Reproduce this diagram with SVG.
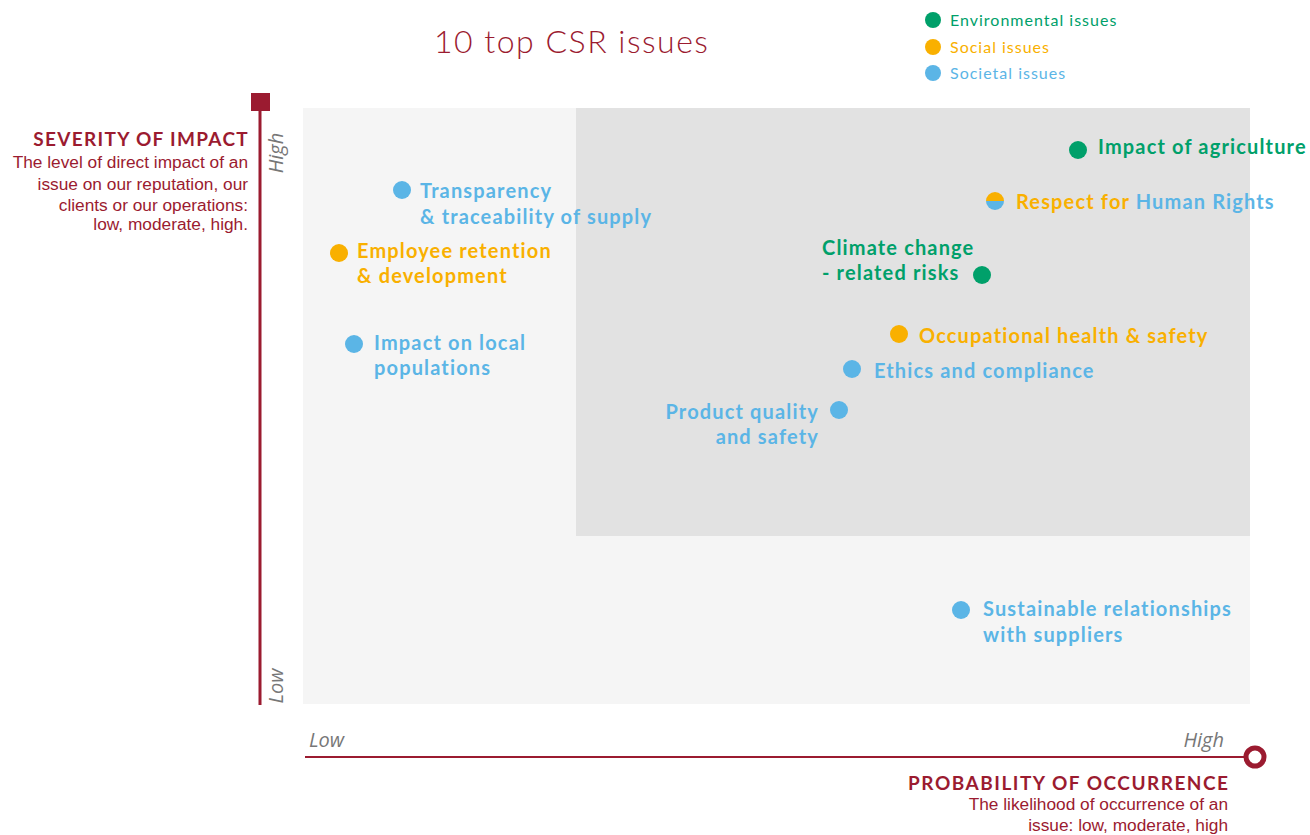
<svg xmlns="http://www.w3.org/2000/svg" width="1310" height="835" viewBox="0 0 1310 835">
<style>
.lbl{font-family:Lato,"Open Sans",sans-serif;font-weight:bold;font-size:20px;letter-spacing:1.15px}
.g{fill:#00A06A}.o{fill:#F9B000}.b{fill:#5BB5E6}
.leg{font-family:Lato,"Open Sans",sans-serif;font-size:16px;letter-spacing:1px}
.ax{font-family:"Open Sans",sans-serif;font-style:italic;font-size:20px;fill:#777}
.hd{font-family:Lato,"Liberation Sans",sans-serif;font-weight:bold;font-size:19px;fill:#9B1B30}
.bd{font-family:"Liberation Sans",Arial,sans-serif;font-size:17.3px;fill:#9B1B30}
</style>
<rect width="1310" height="835" fill="#fff"/>
<g id="background">
<rect x="303" y="108" width="947" height="596" fill="#F5F5F5"/>
<rect x="576" y="108" width="674" height="428" fill="#E2E2E2"/>
</g>
<g id="title"><text x="434" y="53" font-family="Lato,'Open Sans',sans-serif" font-weight="300" font-size="32" letter-spacing="1.5" fill="#9B1B30">10 top CSR issues</text></g>
<g id="legend">
<circle cx="933" cy="20" r="8" class="g"/><text x="950" y="26" class="leg g">Environmental issues</text>
<circle cx="933" cy="47" r="8" class="o"/><text x="950" y="53" class="leg o">Social issues</text>
<circle cx="933" cy="73" r="8" class="b"/><text x="950" y="79" class="leg b">Societal issues</text>
</g>
<g id="axes">
<line x1="260" y1="100" x2="260" y2="705" stroke="#9B1B30" stroke-width="3"/>
<rect x="251" y="93" width="19" height="18" fill="#9B1B30"/>
<line x1="305" y1="757" x2="1246" y2="757" stroke="#9B1B30" stroke-width="2"/>
<circle cx="1255" cy="757" r="9" fill="#fff" stroke="#9B1B30" stroke-width="5"/>
<text class="ax" transform="translate(283,153) rotate(-90)" text-anchor="middle">High</text>
<text class="ax" transform="translate(283,686) rotate(-90)" text-anchor="middle">Low</text>
<text class="ax" x="309" y="747">Low</text>
<text class="ax" x="1224" y="747" text-anchor="end">High</text>
<text class="hd" x="249" y="146" text-anchor="end" letter-spacing="1.3">SEVERITY OF IMPACT</text>
<text class="bd" text-anchor="end"><tspan x="248" y="168">The level of direct impact of an</tspan><tspan x="248" y="190">issue on our reputation, our</tspan><tspan x="248" y="211">clients or our operations:</tspan><tspan x="248" y="230">low, moderate, high.</tspan></text>
<text class="hd" x="1229.5" y="790" text-anchor="end" letter-spacing="1.5">PROBABILITY OF OCCURRENCE</text>
<text class="bd" text-anchor="end"><tspan x="1228" y="810">The likelihood of occurrence of an</tspan><tspan x="1228" y="831">issue: low, moderate, high</tspan></text>
</g>
<g id="transparency"><circle cx="402" cy="190" r="9" class="b"/><text class="lbl b"><tspan x="420" y="198">Transparency</tspan><tspan x="420" y="224">&amp; traceability of supply</tspan></text></g>
<g id="employee"><circle cx="339" cy="253" r="9" class="o"/><text class="lbl o"><tspan x="357" y="258">Employee retention</tspan><tspan x="357" y="283">&amp; development</tspan></text></g>
<g id="local"><circle cx="354" cy="344" r="9" class="b"/><text class="lbl b"><tspan x="374" y="350">Impact on local</tspan><tspan x="374" y="375">populations</tspan></text></g>
<g id="agriculture"><circle cx="1078" cy="150" r="9" class="g"/><text class="lbl g" x="1098" y="154">Impact of agriculture</text></g>
<g id="humanrights"><path d="M986,201 A9,9 0 0 1 1004,201 Z" class="o"/><path d="M986,201 A9,9 0 0 0 1004,201 Z" class="b"/><text class="lbl" x="1016" y="209"><tspan class="o">Respect for </tspan><tspan class="b">Human Rights</tspan></text></g>
<g id="climate"><circle cx="982" cy="275" r="9" class="g"/><text class="lbl g"><tspan x="822" y="255">Climate change</tspan><tspan x="822" y="280">- related risks</tspan></text></g>
<g id="occupational"><circle cx="899" cy="334" r="9" class="o"/><text class="lbl o" x="919" y="343">Occupational health &amp; safety</text></g>
<g id="ethics"><circle cx="852" cy="369" r="9" class="b"/><text class="lbl b" x="874" y="378">Ethics and compliance</text></g>
<g id="product"><circle cx="839" cy="410" r="9" class="b"/><text class="lbl b" text-anchor="end"><tspan x="819" y="419">Product quality</tspan><tspan x="819" y="444">and safety</tspan></text></g>
<g id="sustainable"><circle cx="961" cy="610" r="9" class="b"/><text class="lbl b"><tspan x="983" y="616">Sustainable relationships</tspan><tspan x="983" y="642">with suppliers</tspan></text></g>
<g id="connectors"/>
</svg>
